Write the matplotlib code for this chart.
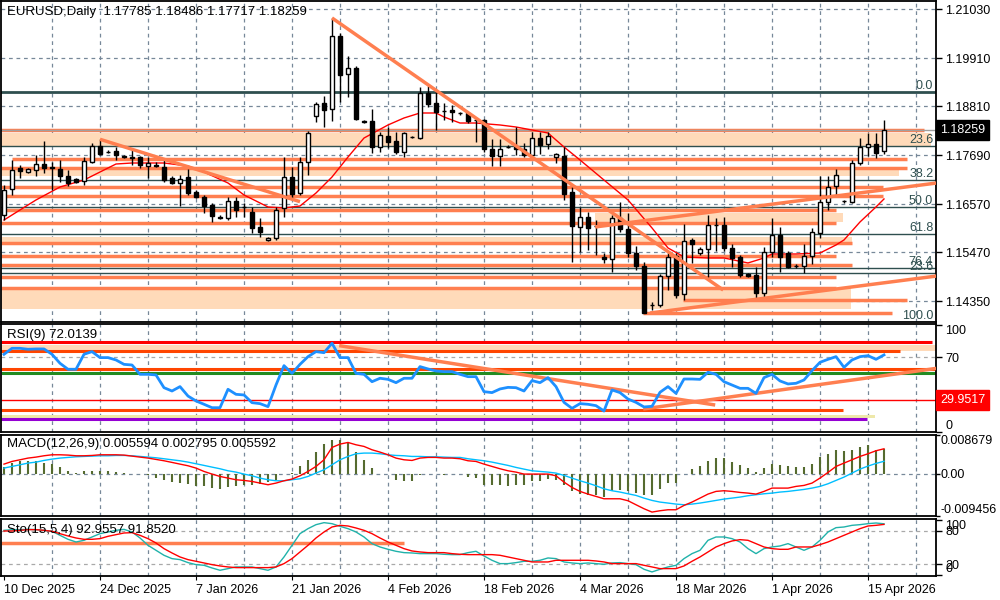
import numpy as np
import matplotlib.pyplot as plt
from matplotlib.transforms import blended_transform_factory

plt.rcParams['font.family'] = ['Liberation Sans', 'DejaVu Sans']
plt.rcParams['font.size'] = 9

# ---- daily candles (bar 0 = 10 Dec 2025) ----
opens = [1.16322, 1.16916, 1.17396, 1.17304, 1.17350, 1.17487, 1.17419, 1.17373, 1.17213, 1.17144,
         1.17099, 1.17533, 1.17899, 1.17761, 1.17784, 1.17670, 1.17647, 1.17647, 1.17441, 1.17464,
         1.17419, 1.17167, 1.17053, 1.17190, 1.16847, 1.16733, 1.16550, 1.16276, 1.16253, 1.16642,
         1.16505, 1.16391, 1.16048, 1.15751, 1.15796, 1.16482, 1.17190, 1.16824, 1.17533, 1.18585,
         1.18882, 1.18744, 1.20413, 1.19545, 1.19682, 1.18470, 1.18470, 1.17876, 1.18127, 1.18013,
         1.17761, 1.18104, 1.18081, 1.19110, 1.18882, 1.18699, 1.18722, 1.18653, 1.18653, 1.18493,
         1.18493, 1.17830, 1.17670, 1.17876, 1.17876, 1.17830, 1.17693, 1.18081, 1.17944, 1.17647,
         1.17670, 1.16847, 1.16048, 1.16276, 1.16071, 1.15362, 1.15316, 1.16253, 1.16002, 1.15453,
         1.15156, 1.14265, 1.14265, 1.14927, 1.15385, 1.14516, 1.15751, 1.15453, 1.15545, 1.16093,
         1.16093, 1.15568, 1.15362, 1.14973, 1.14950, 1.14539, 1.15476, 1.15865, 1.15453, 1.15156,
         1.15156, 1.15385, 1.15911, 1.16619, 1.16985, 1.16642, 1.16619, 1.17510, 1.17876, 1.17944,
         1.17785]
highs = [1.17007, 1.17579, 1.17464, 1.17396, 1.17693, 1.18013, 1.17533, 1.17579, 1.17350, 1.17167,
         1.17647, 1.17967, 1.18059, 1.17807, 1.17876, 1.17693, 1.17807, 1.17670, 1.17647, 1.17533,
         1.17579, 1.17213, 1.17236, 1.17373, 1.16893, 1.16779, 1.16596, 1.16322, 1.16733, 1.16733,
         1.16596, 1.16505, 1.16253, 1.15819, 1.16505, 1.17647, 1.17419, 1.17647, 1.18241, 1.18905,
         1.19042, 1.20825, 1.20482, 1.19956, 1.19727, 1.18493, 1.18744, 1.18219, 1.18333, 1.18219,
         1.18219, 1.18127, 1.19247, 1.19270, 1.19179, 1.18882, 1.18836, 1.18676, 1.18676, 1.18516,
         1.18516, 1.18059, 1.18059, 1.17921, 1.18333, 1.17967, 1.18219, 1.18219, 1.18219, 1.17739,
         1.17876, 1.16962, 1.16505, 1.16391, 1.16207, 1.15453, 1.16322, 1.16619, 1.16368, 1.15614,
         1.15247, 1.14333, 1.14973, 1.15476, 1.15453, 1.16116, 1.15796, 1.15591, 1.16322, 1.16253,
         1.16276, 1.15659, 1.15407, 1.14996, 1.15133, 1.15591, 1.16253, 1.16048, 1.15499, 1.15202,
         1.15659, 1.16025, 1.17213, 1.17213, 1.17373, 1.16665, 1.17579, 1.18081, 1.18196, 1.18196,
         1.18486]
lows = [1.16207, 1.16779, 1.17167, 1.17281, 1.17213, 1.17281, 1.16893, 1.17076, 1.16985, 1.17053,
        1.17007, 1.17510, 1.17693, 1.17739, 1.17579, 1.17624, 1.17464, 1.17396, 1.17167, 1.17419,
        1.17076, 1.17030, 1.16527, 1.16779, 1.16710, 1.16368, 1.16162, 1.16230, 1.16207, 1.16276,
        1.16276, 1.15911, 1.15819, 1.15728, 1.15751, 1.16276, 1.16665, 1.16779, 1.17236, 1.18447,
        1.18333, 1.18470, 1.18905, 1.19019, 1.18493, 1.18424, 1.17739, 1.17761, 1.17853, 1.17716,
        1.17647, 1.18081, 1.18059, 1.18790, 1.18264, 1.18493, 1.18447, 1.18607, 1.18424, 1.17990,
        1.17761, 1.17441, 1.17441, 1.17853, 1.17693, 1.17647, 1.17670, 1.17716, 1.17830, 1.17510,
        1.16665, 1.15247, 1.15476, 1.15522, 1.15407, 1.15225, 1.15019, 1.15933, 1.15362, 1.15065,
        1.14081, 1.14150, 1.14219, 1.14607, 1.14425, 1.14379, 1.15225, 1.15407, 1.14905, 1.15499,
        1.15499, 1.15133, 1.14905, 1.14905, 1.14425, 1.14425, 1.15362, 1.15019, 1.15110, 1.15110,
        1.14996, 1.15202, 1.15796, 1.16436, 1.16756, 1.16596, 1.16596, 1.17464, 1.17670, 1.17624,
        1.17717]
closes = [1.16893, 1.17350, 1.17327, 1.17373, 1.17487, 1.17396, 1.17396, 1.17213, 1.17053, 1.17076,
          1.17556, 1.17899, 1.17716, 1.17765, 1.17693, 1.17647, 1.17624, 1.17464, 1.17510, 1.17441,
          1.17121, 1.17053, 1.17144, 1.16824, 1.16733, 1.16527, 1.16299, 1.16253, 1.16642, 1.16436,
          1.16495, 1.16025, 1.15933, 1.15796, 1.16436, 1.17190, 1.16801, 1.17533, 1.18196, 1.18859,
          1.18722, 1.20413, 1.19522, 1.19682, 1.18516, 1.18447, 1.17876, 1.18150, 1.17990, 1.17761,
          1.18196, 1.18093, 1.19110, 1.18859, 1.18676, 1.18705, 1.18676, 1.18645, 1.18470, 1.18485,
          1.17830, 1.17670, 1.17830, 1.17870, 1.17830, 1.17693, 1.18081, 1.17921, 1.18127, 1.17716,
          1.16801, 1.16071, 1.16276, 1.16025, 1.16060, 1.15316, 1.16253, 1.16002, 1.15453, 1.15156,
          1.14081, 1.14255, 1.14927, 1.15362, 1.14493, 1.15728, 1.15659, 1.15545, 1.16093, 1.16085,
          1.15568, 1.15339, 1.14950, 1.14927, 1.14539, 1.15476, 1.15865, 1.15362, 1.15133, 1.15150,
          1.15385, 1.15933, 1.16619, 1.16962, 1.17236, 1.16630, 1.17510, 1.17876, 1.17944, 1.17739,
          1.18259]

# red moving average, sampled points (bar, price)
ma_bars = [0, 2, 4, 7, 10, 12, 14, 16, 20, 23, 25, 28, 30, 33, 35, 37, 39, 41, 43, 45,
           48, 50, 52, 54, 55, 57, 59, 62, 64, 66, 68, 70, 72, 75, 78, 81, 83, 85, 88, 90,
           93, 95, 96, 99, 102, 104, 105, 107, 109, 110]
ma_vals = [1.16207, 1.16436, 1.16665, 1.16962, 1.17121, 1.17304, 1.17487, 1.17510, 1.17510, 1.17441,
           1.17304, 1.17053, 1.16779, 1.16505, 1.16482, 1.16527, 1.16824, 1.17190, 1.17647, 1.18081,
           1.18379, 1.18539, 1.18653, 1.18653, 1.18562, 1.18424, 1.18424, 1.18379, 1.18333, 1.18264,
           1.18196, 1.17876, 1.17579, 1.17121, 1.16665, 1.16025, 1.15568, 1.15362, 1.15339, 1.15339,
           1.15225, 1.15339, 1.15430, 1.15430, 1.15453, 1.15636, 1.15751, 1.16162, 1.16505, 1.16688]

# RSI(9)
rsi = [72.6, 78.2, 78.2, 77.3, 77.6, 77.6, 72.6, 64.2, 58.6, 58.6,
       72.6, 75.1, 69.5, 69.5, 67.3, 63.2, 62.6, 53.9, 53.9, 53.3,
       41.4, 38.3, 42.4, 33.6, 29.0, 25.9, 22.7, 22.7, 39.9, 35.2,
       34.6, 27.4, 26.5, 23.7, 43.9, 62.0, 54.8, 63.2, 70.4, 75.1,
       74.1, 82.9, 69.5, 69.5, 54.8, 53.9, 47.0, 50.2, 49.2, 46.1,
       50.2, 50.2, 61.1, 58.9, 57.0, 56.4, 56.4, 53.9, 51.7, 51.7,
       37.7, 36.8, 40.2, 41.7, 41.4, 38.3, 48.0, 46.1, 50.8, 42.4,
       27.7, 22.1, 26.5, 25.9, 24.6, 19.6, 39.3, 36.8, 30.8, 27.7,
       23.4, 24.0, 37.1, 42.4, 36.1, 49.5, 49.5, 49.2, 55.8, 53.9,
       47.0, 43.9, 40.8, 40.8, 36.1, 50.8, 53.9, 47.7, 44.9, 45.5,
       48.6, 57.3, 65.1, 67.9, 70.4, 60.4, 67.3, 70.4, 71.3, 67.9,
       72.0139]

# MACD(12,26,9), in units of 1e-4
macd_main = [21.6, 27.6, 31.3, 35.1, 37.3, 40.3, 42.5, 42.5, 41.8, 40.3,
             40.3, 41.0, 42.5, 42.5, 42.5, 41.8, 39.5, 37.3, 35.1, 32.1,
             29.1, 25.4, 21.6, 17.9, 12.7, 5.2, -0.7, -6.0, -9.7, -13.4,
             -14.9, -17.2, -20.9, -24.6, -20.9, -15.7, -11.9, -4.5, 5.2, 16.4,
             31.3, 58.9, 66.4, 70.1, 64.9, 61.2, 53.7, 48.5, 42.5, 35.1,
             31.3, 29.8, 35.1, 36.6, 36.6, 35.1, 35.1, 33.6, 29.1, 27.6,
             21.6, 16.4, 11.2, 6.7, 3.7, -0.7, -0.7, -0.7, -0.7, -4.5,
             -18.7, -30.6, -39.5, -45.5, -50.7, -56.0, -56.0, -56.0, -60.4, -69.4,
             -78.3, -85.8, -82.8, -80.6, -80.6, -70.9, -63.4, -54.5, -45.5, -39.5,
             -38.0, -39.5, -41.8, -43.3, -45.5, -39.5, -32.1, -32.1, -32.1, -28.3,
             -26.1, -20.9, -9.7, 3.0, 16.4, 23.9, 31.3, 38.8, 44.8, 51.5,
             55.94]
macd_signal = [12.7, 16.4, 20.1, 23.9, 26.1, 29.8, 32.8, 35.1, 36.6, 38.0,
               38.8, 39.5, 40.3, 40.3, 41.0, 41.0, 40.3, 38.8, 37.3, 35.8,
               33.6, 31.3, 29.1, 26.1, 22.4, 18.7, 14.9, 11.2, 6.7, 3.7,
               -0.7, -4.5, -9.7, -13.4, -15.7, -15.7, -13.4, -11.2, -6.0, 1.5,
               9.0, 20.1, 31.3, 38.8, 44.8, 46.3, 46.3, 44.8, 42.5, 41.0,
               40.3, 38.8, 38.8, 38.0, 38.0, 37.3, 36.6, 36.6, 33.6, 31.3,
               29.1, 26.1, 22.4, 18.7, 14.2, 10.4, 6.7, 5.2, 3.7, 1.5,
               -3.7, -9.7, -15.7, -20.9, -26.9, -33.6, -38.0, -41.0, -44.8, -48.5,
               -54.5, -59.7, -63.4, -65.6, -67.9, -69.4, -67.9, -65.6, -62.7, -59.7,
               -56.7, -54.5, -52.2, -49.2, -47.0, -44.8, -43.3, -41.0, -39.5, -37.3,
               -35.1, -32.1, -28.3, -22.4, -14.9, -7.5, 1.5, 10.4, 17.2, 23.1,
               27.95]
macd_hist = [14.2, 23.9, 27.6, 27.6, 27.6, 23.9, 21.6, 14.2, 6.7, 1.5,
             5.2, 6.7, 5.2, 6.7, 3.7, 1.5, 0.0, -0.7, -2.2, -9.7,
             -13.4, -18.7, -20.9, -23.1, -28.3, -28.3, -32.1, -33.6, -30.6, -28.3,
             -24.6, -24.6, -22.4, -19.4, -14.9, 0.0, 1.5, 16.4, 31.3, 48.5,
             66.4, 76.1, 76.1, 68.6, 48.5, 31.3, 12.7, 0.0, 0.0, -13.4,
             -15.7, -15.7, -3.7, 0.0, 0.0, -2.2, -0.7, 0.0, -7.5, -9.7,
             -24.6, -26.1, -26.1, -26.9, -24.6, -24.6, -17.2, -15.7, -11.2, -13.4,
             -24.6, -39.5, -45.5, -47.0, -48.5, -52.2, -38.0, -35.8, -39.5, -43.3,
             -47.0, -47.0, -33.6, -20.9, -20.9, 0.0, 10.4, 17.2, 27.6, 35.1,
             35.1, 25.4, 18.7, 12.7, 3.0, 12.7, 22.4, 18.7, 16.4, 14.2,
             14.2, 22.4, 36.6, 44.8, 53.7, 50.0, 53.7, 58.9, 63.4, 53.7,
             55.92]

# Stochastic(15,5,4)
sto_k = [81.2, 82.4, 82.4, 83.0, 82.4, 81.2, 79.4, 72.2, 65.0, 60.2,
         63.2, 69.2, 75.2, 78.2, 81.2, 83.0, 78.2, 67.4, 54.2, 45.2,
         36.2, 30.2, 28.4, 23.0, 19.4, 18.2, 13.4, 9.2, 12.2, 15.2,
         15.2, 15.2, 12.2, 9.2, 15.2, 33.2, 54.2, 75.2, 84.2, 91.4,
         95.0, 93.2, 88.4, 84.2, 78.2, 69.2, 57.2, 51.2, 47.0, 43.4,
         41.0, 40.4, 39.2, 39.2, 39.2, 38.0, 37.4, 37.4, 41.0, 43.4,
         35.0, 27.2, 21.2, 21.2, 23.0, 25.4, 25.4, 27.2, 31.4, 30.2,
         24.2, 22.4, 21.2, 22.4, 21.2, 20.0, 22.4, 23.0, 21.2, 19.4,
         11.0, 6.2, 11.0, 15.2, 18.2, 30.2, 39.2, 45.2, 63.2, 69.2,
         69.2, 66.2, 60.2, 48.2, 39.2, 48.2, 51.2, 53.0, 57.2, 51.2,
         45.2, 51.2, 63.2, 78.2, 86.0, 87.2, 90.2, 91.4, 93.2, 94.4,
         92.9557]
sto_d = [80.0, 80.0, 81.2, 82.4, 82.4, 81.2, 79.4, 75.2, 71.0, 67.4,
         65.0, 65.0, 66.2, 70.4, 73.4, 76.4, 77.0, 72.2, 66.2, 58.4,
         48.2, 40.4, 33.2, 28.4, 25.4, 22.4, 19.4, 17.0, 15.2, 14.0,
         14.0, 14.0, 14.0, 14.0, 15.2, 21.2, 30.2, 42.2, 54.2, 67.4,
         78.2, 87.2, 90.2, 89.0, 85.4, 81.2, 75.2, 67.4, 60.2, 54.2,
         48.2, 44.0, 42.2, 41.0, 41.0, 41.0, 39.2, 38.0, 37.4, 37.4,
         37.4, 37.4, 36.2, 33.2, 30.2, 27.2, 24.2, 24.2, 24.2, 27.2,
         27.2, 27.2, 27.2, 27.2, 26.0, 24.2, 21.2, 21.2, 21.2, 21.2,
         18.2, 15.2, 12.2, 12.2, 12.2, 17.0, 25.4, 33.2, 42.2, 51.2,
         57.2, 62.0, 64.4, 63.2, 57.2, 51.2, 48.2, 47.0, 47.0, 51.2,
         51.2, 51.2, 55.4, 60.2, 66.2, 72.2, 78.2, 84.2, 89.0, 90.2,
         91.8520]

# axis labels
date_labels = ["10 Dec 2025", "24 Dec 2025", "7 Jan 2026", "21 Jan 2026", "4 Feb 2026",
               "18 Feb 2026", "4 Mar 2026", "18 Mar 2026", "1 Apr 2026", "15 Apr 2026"]
date_bars = [0, 12, 24, 36, 48, 60, 72, 84, 96, 108]
price_ticks = [1.21030, 1.19910, 1.18810, 1.17690, 1.16570, 1.15470, 1.14350]

# fibonacci retracement
fib_high = 1.19133
fib_low = 1.13876
fib_ratios = [0.0, 23.6, 38.2, 50.0, 61.8, 76.4, 100.0]
fib2_level = 1.14996   # second fib, its 23.6 level

# horizontal support / resistance lines (price, from bar, to bar)
sr_prices = [1.18264, 1.17601, 1.17396, 1.16962, 1.16756, 1.16436, 1.16139,
             1.15682, 1.15385, 1.15179, 1.14905, 1.14653, 1.14379, 1.14081]
sr_start = [-0.4, 1.0, -0.4, -0.4, -0.4, -0.4, -0.4, -0.4, -0.4, -0.4, -0.4, -0.4, 84.9, 79.9]
sr_end = [115.0, 112.9, 112.9, 109.9, 109.9, 104.0, 104.0, 106.0, 104.0, 106.0, 104.0, 104.0, 112.9, 111.0]

# shaded zones
zone_low = [1.17876, 1.17213, 1.16162, 1.15682, 1.14173]
zone_high = [1.18196, 1.17396, 1.16368, 1.15819, 1.14653]
zone_start = [-0.4, -0.4, 73.9, -0.4, -0.4]
zone_end = [115.9, 111.9, 104.9, 106.0, 105.9]

# trend lines (bar, price) -> (bar, price)
tl_bar0 = [12.0, 41.0, 73.9, 80.75]
tl_p0 = [1.18052, 1.20825, 1.16048, 1.14081]
tl_bar1 = [37.0, 89.9, 116.6, 116.6]
tl_p1 = [1.16626, 1.14607, 1.17053, 1.14927]

# RSI levels and trend lines
rsi_levels = [84.4, 76.0, 59.2, 55.4, 29.9517, 20.9, 11.8]
rsi_level_end = [116.0, 112.0, 116.6, 116.6, 116.6, 104.9, 107.9]
rsi_tl_bar0 = [41.9, 79.9]
rsi_tl_v0 = [80.7, 21.5]
rsi_tl_bar1 = [88.9, 116.6]
rsi_tl_v1 = [25.2, 59.5]
sto_level = 59.0

last_close = closes[-1]

# ---- figure layout (pixel rows of the four panels) ----
W, H = 1000, 600
fig = plt.figure(figsize=(10, 6), dpi=100)

def panel(top, bottom):
    return fig.add_axes([0.001, 1 - bottom / H, 0.935, (bottom - top) / H])

ax_p = panel(1, 321.5)
ax_r = panel(324, 432)
ax_m = panel(434.5, 516)
ax_s = panel(519, 576)
axes = [ax_p, ax_r, ax_m, ax_s]

x0, x1 = -0.375, 116.5
grid_c = '#778899'
dash = (0, (3, 3))
orange = '#FF7F50'
orangered = '#FF4500'
peach = '#FFDAB9'
slate = '#2F4F4F'

for ax in axes:
    ax.set_xlim(x0, x1)
    for s in ax.spines.values():
        s.set_linewidth(1.3)
        s.set_color('black')
    ax.tick_params(axis='x', bottom=False, labelbottom=False)
    ax.yaxis.tick_right()
    ax.tick_params(axis='y', direction='out', length=4, width=1, pad=2.5, labelsize=9)
    # weekly vertical grid
    for b in range(6, 117, 6):
        ax.axvline(b, color=grid_c, lw=0.9, ls=dash, zorder=0)

# ---- price panel ----
ax_p.set_ylim(1.13887, 1.21213)
ax_p.set_yticks(price_ticks)
ax_p.set_yticklabels([f"{v:.5f}" for v in price_ticks])
for v in price_ticks:
    ax_p.axhline(v, color=grid_c, lw=0.9, ls=dash, zorder=0)

for lo, hi, s, e in zip(zone_low, zone_high, zone_start, zone_end):
    ax_p.fill_between([s, e], [lo, lo], [hi, hi], color=peach, lw=0, zorder=1)

ax_p.hlines(sr_prices, sr_start, sr_end, color=orange, lw=2.5, zorder=2)

fib_levels = [fib_high - (fib_high - fib_low) * r / 100 for r in fib_ratios]
trans_p = blended_transform_factory(ax_p.transAxes, ax_p.transData)
for r, lvl in zip(fib_ratios, fib_levels):
    ax_p.axhline(lvl, color=slate, lw=2 if r == 0 else 1, zorder=2)
    ax_p.text(0.997, lvl, f"{r:.1f}", transform=trans_p, ha='right', va='bottom',
              color=slate, fontsize=9, zorder=7)
ax_p.axhline(fib2_level, color=slate, lw=1, zorder=2)
ax_p.text(0.997, fib2_level, "23.6", transform=trans_p, ha='right', va='bottom',
          color=slate, fontsize=9, zorder=7)

ax_p.axhline(last_close, color='#A0A0A0', lw=1, zorder=2.5)
ax_p.plot(ma_bars, ma_vals, color='red', lw=1, zorder=3)

xs = np.arange(len(closes))
o = np.array(opens)
c = np.array(closes)
up = c >= o
ax_p.vlines(xs, lows, highs, color='black', lw=1, zorder=4)
ax_p.bar(xs[up], (c - o)[up], bottom=o[up], width=0.62, color='white',
         edgecolor='black', lw=1, zorder=5)
ax_p.bar(xs[~up], (c - o)[~up], bottom=o[~up], width=0.62, color='black',
         edgecolor='black', lw=1, zorder=5)

for b0, p0, b1, p1 in zip(tl_bar0, tl_p0, tl_bar1, tl_p1):
    ax_p.plot([b0, b1], [p0, p1], color=orange, lw=2.5, zorder=6, solid_capstyle='butt')

ax_p.annotate(f"{last_close:.5f}", xy=(1, last_close), xycoords=('axes fraction', 'data'),
              xytext=(3, 0), textcoords='offset points', ha='left', va='center',
              color='white', fontsize=9, annotation_clip=False,
              bbox=dict(boxstyle='square,pad=0.3', fc='black', ec='black'))

# ---- RSI panel ----
ax_r.set_ylim(0, 100.9)
ax_r.set_yticks([100, 70, 0])
ax_r.set_yticklabels(['100', '70', '0'])
lbl = ax_r.get_yticklabels()
lbl[0].set_va('top')
lbl[2].set_va('bottom')
ax_r.axhline(70, color='#A9A9A9', lw=0.9, ls=dash, zorder=0)
ax_r.fill_between([x0, x1], [75.7, 75.7], [81.3, 81.3], color=peach, lw=0, zorder=1)
ax_r.fill_between([x0, 108.9], [13.0, 13.0], [15.9, 15.9], color='#EEE8AA', lw=0, zorder=1)
rsi_colors = ['red', orangered, orangered, '#228B22', 'red', orangered, '#9400D3']
rsi_widths = [2.2, 2.2, 2.2, 2.2, 1, 2.2, 2.2]
for lvl, end, col, lw in zip(rsi_levels, rsi_level_end, rsi_colors, rsi_widths):
    ax_r.hlines(lvl, x0, end, color=col, lw=lw, zorder=2)
for b0, v0, b1, v1 in zip(rsi_tl_bar0, rsi_tl_v0, rsi_tl_bar1, rsi_tl_v1):
    ax_r.plot([b0, b1], [v0, v1], color=orange, lw=2.5, zorder=3, solid_capstyle='butt')
ax_r.plot(xs, rsi, color='#1E90FF', lw=2, zorder=4)
ax_r.annotate("29.9517", xy=(1, 29.9517), xycoords=('axes fraction', 'data'),
              xytext=(3, 0), textcoords='offset points', ha='left', va='center',
              color='white', fontsize=9, annotation_clip=False,
              bbox=dict(boxstyle='square,pad=0.3', fc='red', ec='red'))

# ---- MACD panel ----
scale = 1e-4
ax_m.set_ylim(-0.009457, 0.008791)
ax_m.set_yticks([0.008679, 0.0, -0.009456])
ax_m.set_yticklabels(['0.008679', '0.00', '-0.009456'])
ax_m.tick_params(axis='y', length=3, pad=0.5)
lbl = ax_m.get_yticklabels()
lbl[0].set_va('top')
lbl[2].set_va('bottom')
ax_m.axhline(0, color=grid_c, lw=0.9, ls=dash, zorder=0)
ax_m.vlines(xs, 0, np.array(macd_hist) * scale, color='#556B2F', lw=1.5, zorder=2)
ax_m.plot(xs, np.array(macd_signal) * scale, color='#00BFFF', lw=1, zorder=3)
ax_m.plot(xs, np.array(macd_main) * scale, color='red', lw=1, zorder=4)

# ---- Stochastic panel ----
ax_s.set_ylim(-1.1, 101.6)
ax_s.set_yticks([100, 80, 20, 0])
ax_s.set_yticklabels(['100', '80', '20', '0'])
lbl = ax_s.get_yticklabels()
lbl[0].set_va('top')
lbl[3].set_va('bottom')
for v in (80, 20):
    ax_s.axhline(v, color='#A9A9A9', lw=0.9, ls=dash, zorder=0)
ax_s.hlines(sto_level, x0, 50, color=orange, lw=2.5, zorder=2)
ax_s.plot(xs, sto_k, color='#20B2AA', lw=1, zorder=3)
ax_s.plot(xs, sto_d, color='red', lw=1, zorder=4)

ax_s.set_xticks(date_bars)
ax_s.set_xticklabels(date_labels, ha='left')
ax_s.tick_params(axis='x', bottom=True, labelbottom=True, direction='out',
                 length=3, pad=3, labelsize=9)

# ---- panel captions ----
def caption(px, py, s):
    fig.text(px / W, 1 - py / H, s, ha='left', va='center', fontsize=9.5, color='black')

caption(7, 12, "EURUSD,Daily  1.17785 1.18486 1.17717 1.18259")
caption(7, 335, "RSI(9) 72.0139")
caption(7, 444, "MACD(12,26,9) 0.005594 0.002795 0.005592")
caption(7, 530, "Sto(15,5,4) 92.9557 91.8520")

fig.savefig('out.png', dpi=100, facecolor='white')
